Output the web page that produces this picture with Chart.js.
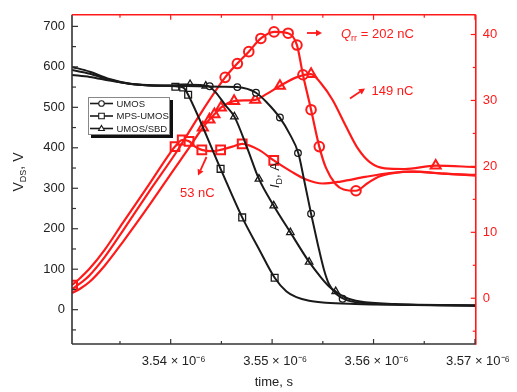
<!DOCTYPE html>
<html><head><meta charset="utf-8">
<script src="https://cdn.jsdelivr.net/npm/chart.js@4.4.0/dist/chart.umd.min.js"></script>
<style>html,body{margin:0;padding:0;background:#fff}#c{display:block}</style>
</head><body>
<canvas id="c" width="517" height="392"></canvas>
<script>
// ---------- tick labels / axis values ----------
const xTicks = [3.54e-6, 3.55e-6, 3.56e-6, 3.57e-6];
const xMinorTicks = [3.535e-6, 3.545e-6, 3.555e-6, 3.565e-6];
const vTicks = [0, 100, 200, 300, 400, 500, 600, 700];
const vMinorTicks = [-50, 50, 150, 250, 350, 450, 550, 650];
const iTicks = [0, 10, 20, 30, 40];
const iMinorTicks = [-5, 5, 15, 25, 35];
const seriesNames = ['UMOS', 'MPS-UMOS', 'UMOS/SBD'];

// ---------- V_DS (black, left axis) ----------
const umosVT = [3.53027e-6,3.53202e-6,3.53396e-6,3.53590e-6,3.53784e-6,3.53997e-6,3.54269e-6,3.54511e-6,3.54657e-6,3.54841e-6,3.54948e-6,3.55074e-6,3.55171e-6,3.55258e-6,3.55316e-6,3.55384e-6,3.55452e-6,3.55510e-6,3.55559e-6,3.55627e-6,3.55724e-6,3.55869e-6,3.56209e-6,3.56694e-6,3.57008e-6];
const umosV  = [592,583,568,558,554,553,552,551,550,536,512,475,435,387,320,237,160,100,64,40,25,17,13,11,10];
const umosVMT = [3.54385e-6,3.54657e-6,3.54841e-6,3.55077e-6,3.55255e-6,3.55384e-6,3.55695e-6];
const umosVM  = [552,550,536,475,387,237,27];

const mpsVT = [3.53027e-6,3.53202e-6,3.53396e-6,3.53590e-6,3.53784e-6,3.53997e-6,3.54084e-6,3.54133e-6,3.54172e-6,3.54492e-6,3.54705e-6,3.54870e-6,3.55025e-6,3.55142e-6,3.55239e-6,3.55365e-6,3.55530e-6,3.55821e-6,3.56209e-6,3.57008e-6];
const mpsV  = [580,575,566,558,554,553,551,547,531,348,228,150,79,45,31,22,17,14,12,10];
const mpsVMT = [3.54046e-6,3.54123e-6,3.54172e-6,3.54492e-6,3.54705e-6,3.55025e-6];
const mpsVM  = [551,549,531,348,228,79];

const sbdVT = [3.53027e-6,3.53202e-6,3.53396e-6,3.53590e-6,3.53784e-6,3.53997e-6,3.54191e-6,3.54366e-6,3.54443e-6,3.54540e-6,3.54628e-6,3.54754e-6,3.54870e-6,3.55016e-6,3.55180e-6,3.55365e-6,3.55481e-6,3.55559e-6,3.55627e-6,3.55724e-6,3.55869e-6,3.56209e-6,3.57008e-6];
const sbdV  = [600,588,570,559,555,554,556,553,537,505,477,400,323,257,191,118,80,58,45,30,20,14,11];
const sbdVMT = [3.54191e-6,3.54346e-6,3.54628e-6,3.54870e-6,3.55016e-6,3.55180e-6,3.55365e-6,3.55627e-6];
const sbdVM  = [557,553,477,323,257,191,118,45];

// ---------- I_D (red, right axis) ----------
const umosIT = [3.53027e-6,3.53103e-6,3.53201e-6,3.53347e-6,3.53531e-6,3.53784e-6,3.54075e-6,3.54269e-6,3.54537e-6,3.54657e-6,3.54770e-6,3.54889e-6,3.55019e-6,3.55158e-6,3.55245e-6,3.55304e-6,3.55384e-6,3.55465e-6,3.55530e-6,3.55627e-6,3.55705e-6,3.55827e-6,3.55937e-6,3.56044e-6,3.56209e-6,3.56371e-6,3.56694e-6,3.57008e-6];
const umosI  = [1.4,2.2,3.5,6.2,10.3,16.1,22.6,27.4,33.5,35.6,37.4,39.4,40.4,40.2,38.4,33.9,28.6,23.0,19.8,17.3,16.5,16.3,17.4,18.4,19.0,19.2,18.9,18.6];
const umosIMT = [3.54537e-6,3.54657e-6,3.54770e-6,3.54889e-6,3.55019e-6,3.55158e-6,3.55245e-6,3.55304e-6,3.55384e-6,3.55465e-6,3.55827e-6];
const umosIM  = [33.5,35.6,37.4,39.4,40.4,40.2,38.4,33.9,28.6,23.0,16.3];

const mpsIT = [3.53027e-6,3.53103e-6,3.53201e-6,3.53347e-6,3.53531e-6,3.53784e-6,3.53997e-6,3.54043e-6,3.54114e-6,3.54181e-6,3.54240e-6,3.54307e-6,3.54404e-6,3.54492e-6,3.54608e-6,3.54705e-6,3.54870e-6,3.55016e-6,3.55190e-6,3.55336e-6,3.55498e-6,3.55676e-6,3.55918e-6,3.56161e-6,3.56403e-6,3.56694e-6,3.57008e-6];
const mpsI  = [2.0,3.0,4.5,7.3,11.5,17.2,22.1,23.0,24.0,23.8,23.0,22.5,22.3,22.5,23.0,23.4,22.5,20.9,19.2,18.0,17.4,17.7,18.4,19.0,19.2,18.9,18.7];
const mpsIMT = [3.53033e-6,3.54043e-6,3.54114e-6,3.54181e-6,3.54307e-6,3.54492e-6,3.54705e-6,3.55016e-6];
const mpsIM  = [2.0,23.0,24.0,23.8,22.5,22.5,23.4,20.9];

const sbdIT = [3.53027e-6,3.53103e-6,3.53201e-6,3.53347e-6,3.53531e-6,3.53784e-6,3.54026e-6,3.54172e-6,3.54317e-6,3.54382e-6,3.54431e-6,3.54495e-6,3.54625e-6,3.54834e-6,3.54948e-6,3.55077e-6,3.55239e-6,3.55384e-6,3.55481e-6,3.55595e-6,3.55724e-6,3.55850e-6,3.55966e-6,3.56112e-6,3.56306e-6,3.56613e-6,3.57008e-6];
const sbdI  = [0.8,1.4,2.5,4.9,8.6,14.0,19.4,22.6,25.9,27.1,27.9,28.9,29.9,30.1,31.0,32.2,33.5,34.0,32.6,30.1,26.2,22.6,20.6,19.7,19.6,20.1,19.9];
const sbdIMT = [3.54317e-6,3.54382e-6,3.54431e-6,3.54495e-6,3.54625e-6,3.54834e-6,3.55077e-6,3.55384e-6,3.56613e-6];
const sbdIM  = [25.9,27.1,27.9,28.9,29.9,30.1,32.2,34.0,20.1];

// ---------- styling ----------
const RED = '#ff1a1a';
const BLK = '#1a1a1a';
const AX = '#333333';
const FF = '"Liberation Sans", Arial, Helvetica, sans-serif';

const pts = (t, v) => t.map((x, i) => ({x: x, y: v[i]}));

function lineDS(t, v, color, axis, w) {
  return {type: 'line', data: pts(t, v), borderColor: color, borderWidth: w, pointRadius: 0,
    cubicInterpolationMode: 'monotone', fill: false, yAxisID: axis};
}
function markDS(t, v, color, axis, style, r, bw) {
  return {type: 'line', data: pts(t, v), showLine: false, pointStyle: style, pointRadius: r,
    pointBorderColor: color, pointBackgroundColor: '#ffffff', pointBorderWidth: bw, yAxisID: axis};
}

const datasets = [
  lineDS(umosVT, umosV, BLK, 'y', 2), lineDS(mpsVT, mpsV, BLK, 'y', 2), lineDS(sbdVT, sbdV, BLK, 'y', 2),
  markDS(umosVMT, umosVM, BLK, 'y', 'circle', 3.3, 1.3),
  markDS(mpsVMT, mpsVM, BLK, 'y', 'rect', 4.8, 1.3),
  markDS(sbdVMT, sbdVM, BLK, 'y', 'triangle', 4.3, 1.3),
  lineDS(umosIT, umosI, RED, 'y2', 2.2), lineDS(mpsIT, mpsI, RED, 'y2', 2.2), lineDS(sbdIT, sbdI, RED, 'y2', 2.2),
  markDS(umosIMT, umosIM, RED, 'y2', 'circle', 4.8, 2),
  markDS(mpsIMT, mpsIM, RED, 'y2', 'rect', 6.2, 2),
  markDS(sbdIMT, sbdIM, RED, 'y2', 'triangle', 5.8, 2)
];

function seg(ctx, x1, y1, x2, y2) { ctx.beginPath(); ctx.moveTo(x1, y1); ctx.lineTo(x2, y2); ctx.stroke(); }
function arrow(ctx, x1, y1, x2, y2, color) {
  ctx.strokeStyle = color; ctx.fillStyle = color; ctx.lineWidth = 1.8;
  const ang = Math.atan2(y2 - y1, x2 - x1), hl = 6, hw = 3.2;
  const bx = x2 - hl * Math.cos(ang), by = y2 - hl * Math.sin(ang);
  seg(ctx, x1, y1, bx, by);
  ctx.beginPath(); ctx.moveTo(x2, y2);
  ctx.lineTo(bx + hw * Math.sin(ang), by - hw * Math.cos(ang));
  ctx.lineTo(bx - hw * Math.sin(ang), by + hw * Math.cos(ang));
  ctx.closePath(); ctx.fill();
}
function richWidth(ctx, parts) {
  let w = 0; parts.forEach(p => { ctx.font = p.f; w += ctx.measureText(p.t).width; }); return w;
}
function rich(ctx, parts, x, y) {
  parts.forEach(p => { ctx.font = p.f; ctx.fillText(p.t, x, y + (p.dy || 0)); x += ctx.measureText(p.t).width; });
}
function marker(ctx, style, x, y, r) {
  ctx.beginPath();
  if (style === 'circle') ctx.arc(x, y, r, 0, Math.PI * 2);
  else if (style === 'rect') ctx.rect(x - r, y - r, 2 * r, 2 * r);
  else { ctx.moveTo(x, y - r * 1.1); ctx.lineTo(x + r * 1.05, y + r * 0.7); ctx.lineTo(x - r * 1.05, y + r * 0.7); ctx.closePath(); }
  ctx.fillStyle = '#fff'; ctx.fill(); ctx.stroke();
}

const deco = {
  id: 'deco',
  afterDraw(chart) {
    const ctx = chart.ctx, a = chart.chartArea;
    const sx = chart.scales.x, sy = chart.scales.y, sr = chart.scales.y2;
    ctx.save();
    // frame
    ctx.lineWidth = 1.6;
    ctx.strokeStyle = AX; seg(ctx, a.left, a.top, a.left, a.bottom); seg(ctx, a.left, a.bottom, a.right, a.bottom);
    ctx.strokeStyle = RED; seg(ctx, a.right, a.top, a.right, a.bottom + 0.8); seg(ctx, a.left, a.top, a.right, a.top);
    // inward ticks
    ctx.lineWidth = 1.2;
    const xt = (vals, len) => vals.forEach(v => { const p = sx.getPixelForValue(v);
      ctx.strokeStyle = AX; seg(ctx, p, a.bottom, p, a.bottom - len);
      ctx.strokeStyle = RED; seg(ctx, p, a.top, p, a.top + len); });
    xt(xTicks, 5); xt(xMinorTicks, 3);
    ctx.strokeStyle = AX;
    vTicks.forEach(v => { const p = sy.getPixelForValue(v); seg(ctx, a.left, p, a.left + 6, p); });
    vMinorTicks.forEach(v => { const p = sy.getPixelForValue(v); seg(ctx, a.left, p, a.left + 4, p); });
    ctx.strokeStyle = RED;
    iTicks.forEach(v => { const p = sr.getPixelForValue(v); seg(ctx, a.right, p, a.right - 5, p); });
    iMinorTicks.forEach(v => { const p = sr.getPixelForValue(v); seg(ctx, a.right, p, a.right - 3, p); });

    // axis titles
    ctx.fillStyle = '#222'; ctx.textBaseline = 'alphabetic';
    ctx.font = '13px ' + FF; ctx.textAlign = 'center';
    ctx.fillText('time, s', (a.left + a.right) / 2, 386);
    ctx.textAlign = 'left';
    const vParts = [{t: 'V', f: '14px ' + FF}, {t: 'DS', f: '9px ' + FF, dy: 3}, {t: ', V', f: '14px ' + FF}];
    ctx.save(); ctx.translate(23, 172); ctx.rotate(-Math.PI / 2);
    rich(ctx, vParts, -richWidth(ctx, vParts) / 2, 0); ctx.restore();
    const iParts = [{t: 'I', f: 'italic 13px ' + FF}, {t: 'D', f: '9px ' + FF, dy: 3}, {t: ', A', f: '13px ' + FF}];
    ctx.save(); ctx.translate(279, 175); ctx.rotate(-Math.PI / 2);
    rich(ctx, iParts, -richWidth(ctx, iParts) / 2, 0); ctx.restore();

    // annotations
    ctx.fillStyle = RED;
    rich(ctx, [{t: 'Q', f: 'italic 13px ' + FF}, {t: 'rr', f: '9px ' + FF, dy: 3}, {t: ' = 202 nC', f: '13px ' + FF}], 341, 37.5);
    ctx.font = '13px ' + FF; ctx.fillText('149 nC', 371.5, 95); ctx.fillText('53 nC', 180, 196.5);
    arrow(ctx, 307, 33, 322, 33, RED);
    arrow(ctx, 350, 98.5, 365, 88.5, RED);
    arrow(ctx, 206.5, 157, 198, 175.5, RED);

    // legend
    const lx = 88, ly = 97, lw = 82, lh = 38;
    ctx.fillStyle = '#111'; ctx.fillRect(lx + 3, ly + 3, lw, lh);
    ctx.fillStyle = '#fff'; ctx.fillRect(lx, ly, lw, lh);
    ctx.strokeStyle = '#888'; ctx.lineWidth = 1; ctx.strokeRect(lx + 0.5, ly + 0.5, lw - 1, lh - 1);
    const styles = ['circle', 'rect', 'triangle'];
    seriesNames.forEach((n, k) => {
      const yy = 103.5 + k * 12.5;
      ctx.strokeStyle = BLK; ctx.lineWidth = 1.6; seg(ctx, 90, yy, 113, yy);
      ctx.lineWidth = 1.1; marker(ctx, styles[k], 101.5, yy, 2.8);
      ctx.fillStyle = '#222'; ctx.font = '9.5px ' + FF; ctx.textBaseline = 'middle'; ctx.fillText(n, 116.5, yy + 0.5);
    });
    ctx.restore();
  }
};

new Chart(document.getElementById('c'), {
  type: 'line',
  data: {datasets: datasets},
  options: {
    responsive: false, animation: false, devicePixelRatio: 1,
    layout: {padding: {top: 11, left: 0, right: 0, bottom: 0}},
    plugins: {legend: {display: false}, tooltip: {enabled: false}},
    scales: {
      x: {type: 'linear', position: 'bottom', min: 3.53027e-6, max: 3.57008e-6,
        afterBuildTicks: s => { s.ticks = xTicks.map(v => ({value: v})); },
        afterFit: s => { s.height = 48; },
        grid: {display: false, drawTicks: false}, border: {display: false},
        ticks: {autoSkip: false, maxRotation: 0, padding: 10, labelOffset: 3, color: '#222', font: {family: FF, size: 13},
          callback: v => (v * 1e6).toFixed(2) + ' \u00d7 10\u207b\u2076'}},
      y: {type: 'linear', position: 'left', min: -84.8, max: 728.6,
        afterBuildTicks: s => { s.ticks = vTicks.map(v => ({value: v})); },
        afterFit: s => { s.width = 72; },
        grid: {display: false, drawTicks: false}, border: {display: false},
        ticks: {padding: 7, color: '#222', font: {family: FF, size: 13}}},
      y2: {type: 'linear', position: 'right', min: -6.94, max: 42.99,
        afterBuildTicks: s => { s.ticks = iTicks.map(v => ({value: v})); },
        afterFit: s => { s.width = 34; },
        grid: {display: false, drawTicks: false}, border: {display: false},
        ticks: {padding: 7, color: RED, font: {family: FF, size: 13}}}
    }
  },
  plugins: [deco]
});
</script>
</body></html>
